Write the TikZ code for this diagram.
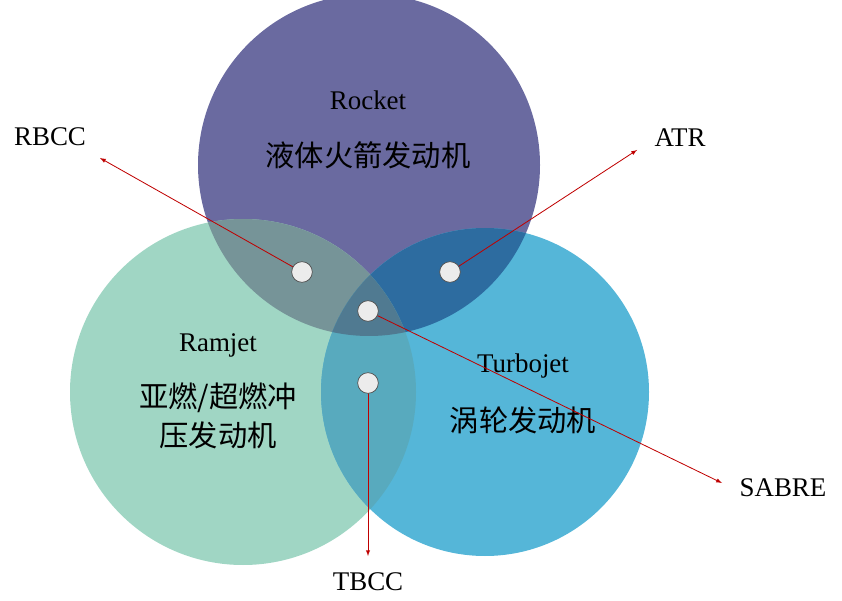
\documentclass[tikz,border=0pt]{standalone}
\usepackage{fontspec}
\setmainfont{Liberation Serif}
\newfontfamily\cjk{Noto Sans CJK SC}
\begin{document}
\begin{tikzpicture}[x=0.03cm,y=-0.03cm,
  dot/.style={circle,draw=black!70,fill=gray!15,minimum size=0.62cm,inner sep=0pt,line width=0.6pt},
  arr/.style={draw=red!75!black,line width=0.7pt,-latex},
  lbl/.style={font=\fontsize{23}{26}\selectfont},
  clbl/.style={font=\cjk\fontsize{25}{30}\selectfont}]
\useasboundingbox (0,0) rectangle (842,601);
\def\rkp{(369,165) circle (171)}
\def\rjp{(243,392) circle (173)}
\def\tjp{(485,392) circle (164)}
\fill[fill={rgb,255:red,106;green,106;blue,160}] \rkp;
\fill[fill={rgb,255:red,160;green,214;blue,196}] \rjp;
\fill[fill={rgb,255:red,85;green,182;blue,216}] \tjp;
\begin{scope}\clip \rkp; \fill[fill={rgb,255:red,118;green,148;blue,152}] \rjp;\end{scope}
\begin{scope}\clip \rkp; \fill[fill={rgb,255:red,45;green,108;blue,160}] \tjp;\end{scope}
\begin{scope}\clip \rjp; \fill[fill={rgb,255:red,88;green,170;blue,190}] \tjp;\end{scope}
\begin{scope}\clip \rkp; \clip \rjp; \fill[fill={rgb,255:red,80;green,122;blue,145}] \tjp;\end{scope}
\node[lbl] (rk) at (368,100) {Rocket};
\node[clbl] (rkc) at (368,155) {液体火箭发动机};
\node[lbl] (rj) at (218,345) {Ramjet};
\node[clbl] (rjc1) at (218,398) {亚燃/超燃冲};
\node[clbl] (rjc2) at (218,435) {压发动机};
\node[lbl] (tj) at (523,366) {Turbojet};
\node[clbl] (tjc) at (523,420) {涡轮发动机};
\coordinate (d1) at (302,272);
\coordinate (d2) at (450,272);
\coordinate (d3) at (368,311);
\coordinate (d4) at (368,383);
\coordinate (e1) at (100,158);
\coordinate (e2) at (637,150);
\coordinate (e3) at (722,483);
\coordinate (e4) at (368,556);
\draw[arr] (d1) -- (e1);
\draw[arr] (d2) -- (e2);
\draw[arr] (d3) -- (e3);
\draw[arr] (d4) -- (e4);
\node[dot] (n1) at (d1) {};\node[dot] (n2) at (d2) {};\node[dot] (n3) at (d3) {};\node[dot] (n4) at (d4) {};
\node[lbl] (t1) at (50,137) {RBCC};
\node[lbl] (t2) at (680,138) {ATR};
\node[lbl] (t3) at (783,488) {SABRE};
\node[lbl] (t4) at (368,582) {TBCC};
\end{tikzpicture}
\end{document}
